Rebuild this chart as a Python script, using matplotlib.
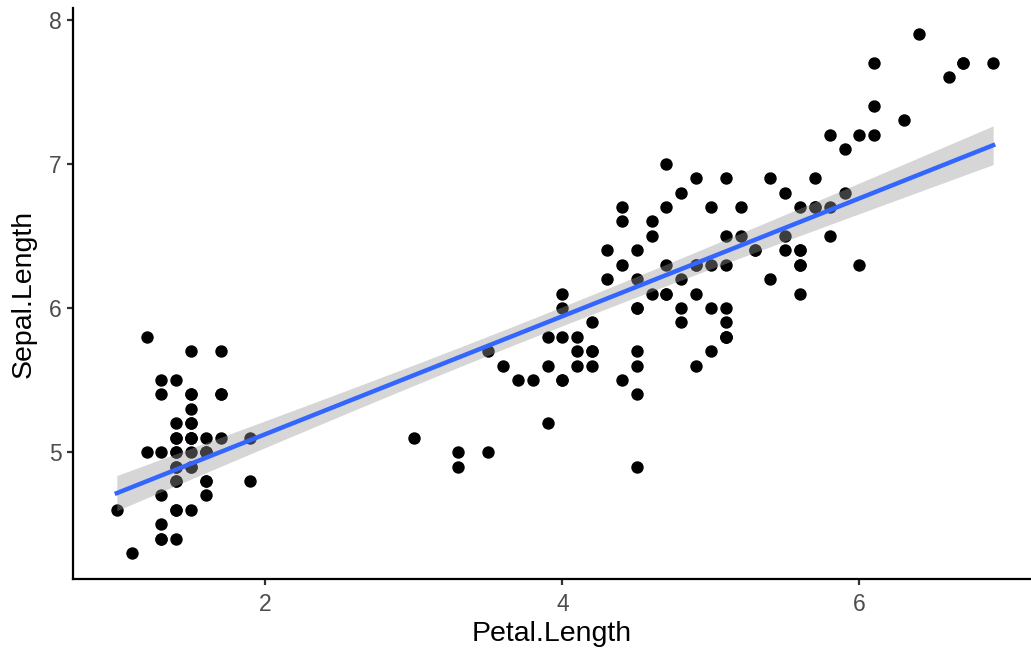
import numpy as np
import matplotlib
matplotlib.use("Agg")
import matplotlib.pyplot as plt

plt.rcParams['font.family'] = ['Liberation Sans', 'DejaVu Sans']

# iris: Petal.Length (x) and Sepal.Length (y)
petal_length = [
    1.4, 1.4, 1.3, 1.5, 1.4, 1.7, 1.4, 1.5, 1.4, 1.5, 1.5, 1.6, 1.4, 1.1, 1.2, 1.5, 1.3, 1.4, 1.7, 1.5,
    1.7, 1.5, 1.0, 1.7, 1.9, 1.6, 1.6, 1.5, 1.4, 1.6, 1.6, 1.5, 1.5, 1.4, 1.5, 1.2, 1.3, 1.4, 1.3, 1.5,
    1.3, 1.3, 1.3, 1.6, 1.9, 1.4, 1.6, 1.4, 1.5, 1.4,
    4.7, 4.5, 4.9, 4.0, 4.6, 4.5, 4.7, 3.3, 4.6, 3.9, 3.5, 4.2, 4.0, 4.7, 3.6, 4.4, 4.5, 4.1, 4.5, 3.9,
    4.8, 4.0, 4.9, 4.7, 4.3, 4.4, 4.8, 5.0, 4.5, 3.5, 3.8, 3.7, 3.9, 5.1, 4.5, 4.5, 4.7, 4.4, 4.1, 4.0,
    4.4, 4.6, 4.0, 3.3, 4.2, 4.2, 4.2, 4.3, 3.0, 4.1,
    6.0, 5.1, 5.9, 5.6, 5.8, 6.6, 4.5, 6.3, 5.8, 6.1, 5.1, 5.3, 5.5, 5.0, 5.1, 5.3, 5.5, 6.7, 6.9, 5.0,
    5.7, 4.9, 6.7, 4.9, 5.7, 6.0, 4.8, 4.9, 5.6, 5.8, 6.1, 6.4, 5.6, 5.1, 5.6, 6.1, 5.6, 5.5, 4.8, 5.4,
    5.6, 5.1, 5.1, 5.9, 5.7, 5.2, 5.0, 5.2, 5.4, 5.1,
]
sepal_length = [
    5.1, 4.9, 4.7, 4.6, 5.0, 5.4, 4.6, 5.0, 4.4, 4.9, 5.4, 4.8, 4.8, 4.3, 5.8, 5.7, 5.4, 5.1, 5.7, 5.1,
    5.4, 5.1, 4.6, 5.1, 4.8, 5.0, 5.0, 5.2, 5.2, 4.7, 4.8, 5.4, 5.2, 5.5, 4.9, 5.0, 5.5, 4.9, 4.4, 5.1,
    5.0, 4.5, 4.4, 5.0, 5.1, 4.8, 5.1, 4.6, 5.3, 5.0,
    7.0, 6.4, 6.9, 5.5, 6.5, 5.7, 6.3, 4.9, 6.6, 5.2, 5.0, 5.9, 6.0, 6.1, 5.6, 6.7, 5.6, 5.8, 6.2, 5.6,
    5.9, 6.1, 6.3, 6.1, 6.4, 6.6, 6.8, 6.7, 6.0, 5.7, 5.5, 5.5, 5.8, 6.0, 5.4, 6.0, 6.7, 6.3, 5.6, 5.5,
    5.5, 6.1, 5.8, 5.0, 5.6, 5.7, 5.7, 6.2, 5.1, 5.7,
    6.3, 5.8, 7.1, 6.3, 6.5, 7.6, 4.9, 7.3, 6.7, 7.2, 6.5, 6.4, 6.8, 5.7, 5.8, 6.4, 6.5, 7.7, 7.7, 6.0,
    6.9, 5.6, 7.7, 6.3, 6.7, 7.2, 6.2, 6.1, 6.4, 7.2, 7.4, 7.9, 6.4, 6.3, 6.1, 7.7, 6.3, 6.4, 6.0, 6.9,
    6.7, 6.9, 5.8, 6.8, 6.7, 6.7, 6.3, 6.5, 6.2, 5.9,
]
x_ticks = [2, 4, 6]
y_ticks = [5, 6, 7, 8]

x = np.array(petal_length)
y = np.array(sepal_length)

# linear fit with 95% confidence band (like geom_smooth(method = "lm"))
n = len(x)
slope, intercept = np.polyfit(x, y, 1)
resid = y - (intercept + slope * x)
s = np.sqrt(np.sum(resid ** 2) / (n - 2))
xs = np.linspace(x.min(), x.max(), 80)
fit = intercept + slope * xs
se = s * np.sqrt(1 / n + (xs - x.mean()) ** 2 / np.sum((x - x.mean()) ** 2))
tcrit = 1.976  # t(0.975, df=148)

fig = plt.figure(figsize=(10.31, 6.51), dpi=100)
ax = fig.add_axes([73 / 1031, (651 - 579) / 651, (1031 - 73) / 1031, (579 - 8) / 651])

ax.scatter(x, y, s=80, color='black', linewidths=0, zorder=2)
ax.fill_between(xs, fit - tcrit * se, fit + tcrit * se, color='#999999', alpha=0.4,
                linewidth=0, zorder=3)
ax.plot(xs, fit, color='#3366FF', linewidth=3.2, zorder=4)

ax.set_xlim(0.705, 7.155)
ax.set_ylim(4.12, 8.08)
ax.set_xticks(x_ticks)
ax.set_yticks(y_ticks)

for side in ['top', 'right']:
    ax.spines[side].set_visible(False)
for side in ['left', 'bottom']:
    ax.spines[side].set_linewidth(1.6)
    ax.spines[side].set_color('black')

ax.tick_params(axis='both', length=4, width=1.6, color='#333333',
               labelsize=16.5, labelcolor='#4D4D4D')
ax.tick_params(axis='x', pad=6)
ax.tick_params(axis='y', pad=4)
ax.set_xlabel('Petal.Length', fontsize=20.5, color='black', labelpad=4)
ax.set_ylabel('Sepal.Length', fontsize=20.5, color='black', labelpad=9)

fig.savefig('out.png', dpi=100)
